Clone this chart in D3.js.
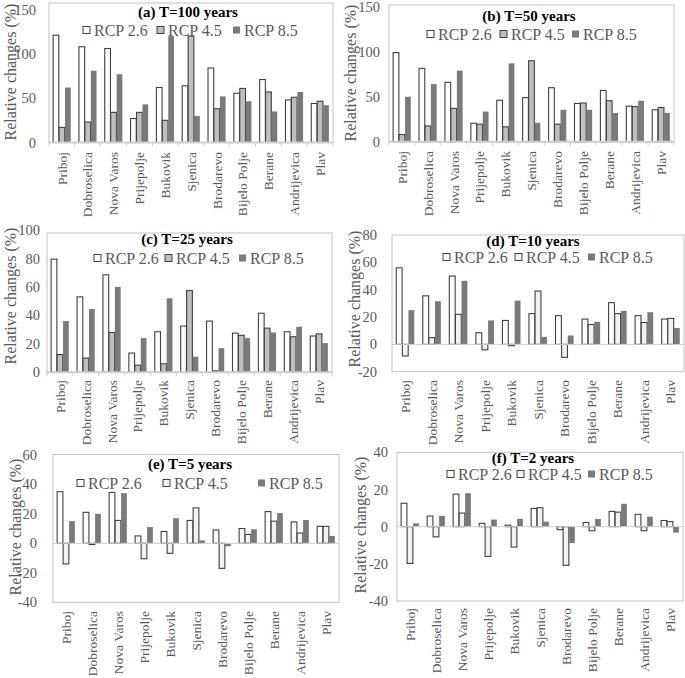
<!DOCTYPE html>
<html><head><meta charset="utf-8">
<script src="https://cdn.jsdelivr.net/npm/d3@7"></script>
<style>body{margin:0;background:#fff}svg{display:block}</style>
</head><body><svg id="c" width="685" height="678"></svg>
<script>
const categories = ["Priboj","Dobroselica","Nova Varos","Prijepolje","Bukovik","Sjenica","Brodarevo","Bijelo Polje","Berane","Andrijevica","Plav"];
const seriesNames = ["RCP 2.6","RCP 4.5","RCP 8.5"];

const rcp26_T100 = [121,108,106,27,62,64,84,55.5,71,48,44];
const rcp45_T100 = [17,23,34,34,25,120,38,61,57,51,46.5];
const rcp85_T100 = [62,81,77,43,120,30,52,46.5,35,57,42];

const rcp26_T50 = [99,81.5,66,20.5,46,49,60,42.5,57,39.5,35.5];
const rcp45_T50 = [8,17.5,37,19.5,16.5,90,19.5,43,45.5,39,38];
const rcp85_T50 = [50,64,79,33.5,87,21,35.5,35.5,32,45.5,32];

const rcp26_T25 = [79.5,53,68.5,13.5,28.5,32.5,36,27.5,41.5,28.5,25.5];
const rcp45_T25 = [12.5,10,28,5,6,57.5,1,26,31,25,27];
const rcp85_T25 = [36,44.5,60,24,52,11,17,24,28,32,20.5];

const rcp26_T10 = [56,35.5,50,8.5,17.5,22.5,21,18.5,30.5,21,18.5];
const rcp45_T10 = [-8.5,5,22,-4,-1,39,-9.5,14.5,22.5,16,19];
const rcp85_T10 = [25,31.5,46.5,17.5,32,5.5,6.5,16.5,24.5,23.5,12];

const rcp26_T5 = [35,21,34.5,5,8,15.5,9,10,21.5,14.5,11.5];
const rcp45_T5 = [-14,-0.8,15.5,-10.5,-6.8,24,-17,6,15,7,11.5];
const rcp85_T5 = [15,20,34,11,17,2,-2,9.5,20.5,15.8,5];

const rcp26_T2 = [12.6,5.7,17.5,1.8,0.8,9.8,-1.6,2.2,8.2,6.6,3.3];
const rcp45_T2 = [-19.8,-5.5,7.3,-16,-11,10.2,-20.8,-2.2,7.8,-2.2,2.7];
const rcp85_T2 = [1.8,5.8,18,3.8,4.2,2.7,-8.8,4.1,12.3,5.4,-3.2];

const ticksA = [0,50,100,150];
const ticksC = [0,20,40,60,80,100];
const ticksD = [-20,0,20,40,60,80];
const ticksE = [-40,-20,0,20,40,60];
const ticksF = [-40,-20,0,20,40];

const titles = ["(a) T=100 years","(b) T=50 years","(c) T=25 years","(d) T=10 years","(e) T=5 years","(f) T=2 years"];

const FONT = "'Liberation Serif', 'Times New Roman', serif";

// layout
const panels = [
  {title:titles[0], data:[rcp26_T100,rcp45_T100,rcp85_T100], dom:[0,150], rng:[142.5,9.5], ticks:ticksA, x0:49, x1:333, fTop:3, fBot:142.5, tickX:36,
   ttl:[188,17], leg:[83,157,233], legY:30, yt:[10,72], labY:152, c2:"#bfbfbf"},
  {title:titles[1], data:[rcp26_T50,rcp45_T50,rcp85_T50], dom:[0,150], rng:[141.7,6.7], ticks:ticksA, x0:389, x1:674, fTop:5, fBot:141.7, tickX:380,
   ttl:[529,21], leg:[427,500,572], legY:34, yt:[350,73], labY:151, c2:"#bfbfbf"},
  {title:titles[2], data:[rcp26_T25,rcp45_T25,rcp85_T25], dom:[0,100], rng:[372.3,230], ticks:ticksC, x0:47, x1:332, fTop:233, fBot:372.3, tickX:40,
   ttl:[187,244], leg:[94,165,239], legY:258, yt:[10,296], labY:380, c2:"#bfbfbf"},
  {title:titles[3], data:[rcp26_T10,rcp45_T10,rcp85_T10], dom:[-20,80], rng:[371.7,235], ticks:ticksD, x0:392, x1:684, fTop:235, fBot:371.7, tickX:377,
   ttl:[533,246], leg:[443,515,588], legY:257, yt:[354,299], labY:380, c2:"#f2f2f2"},
  {title:titles[4], data:[rcp26_T5,rcp45_T5,rcp85_T5], dom:[-40,60], rng:[602.3,454.8], ticks:ticksE, x0:53, x1:339, fTop:454.5, fBot:602.3, tickX:37,
   ttl:[190,469], leg:[77,163,258], legY:483, yt:[15,527], labY:611, c2:"#f2f2f2"},
  {title:titles[5], data:[rcp26_T2,rcp45_T2,rcp85_T2], dom:[-40,40], rng:[601,452.3], ticks:ticksF, x0:397, x1:683, fTop:452.3, fBot:601, tickX:388,
   ttl:[533,463], leg:[447,517,588], legY:474, yt:[360,525], labY:608, c2:"#f2f2f2"}
];

const svg = d3.select("#c").style("font-family", FONT);
svg.append("rect").attr("width",685).attr("height",678).attr("fill","#fff");
const grey = "#595959";

panels.forEach(p => {
  const g = svg.append("g");
  const colors = ["#ffffff", p.c2, "#7a7a7a"];
  const strokes = ["#404040","#404040","none"];
  const x = d3.scaleBand().domain(categories).range([p.x0,p.x1]).paddingInner(0.3).paddingOuter(0.15);
  const xs = d3.scaleBand().domain([0,1,2]).range([0,x.bandwidth()]).padding(0.04);
  const y = d3.scaleLinear().domain(p.dom).range(p.rng);

  g.append("rect").attr("x",p.x0).attr("y",p.fTop).attr("width",p.x1-p.x0).attr("height",p.fBot-p.fTop)
    .attr("fill","none").attr("stroke","#c4c4c4").attr("stroke-width",1);

  g.selectAll(".yt").data(p.ticks).join("text")
    .style("font-family",FONT)
    .attr("x",p.tickX).attr("y",d=>y(d)).attr("dy","0.35em").attr("text-anchor","end")
    .attr("font-size",14.5).attr("fill",grey).text(d=>d);

  p.data.forEach((vals,si) => {
    g.selectAll(".b"+si).data(vals).join("rect")
      .attr("x",(d,i)=>x(categories[i])+xs(si))
      .attr("width",xs.bandwidth())
      .attr("y",d=>y(Math.max(0,d)))
      .attr("height",d=>Math.abs(y(d)-y(0)))
      .attr("fill",colors[si]).attr("stroke",strokes[si]).attr("stroke-width",1.1);
  });

  g.append("line").attr("x1",p.x0).attr("x2",p.x1).attr("y1",y(0)).attr("y2",y(0))
    .attr("stroke","#cfcfcf").attr("stroke-width", p.dom[0]===0 ? 2 : 1);
  if (p.dom[0]===0) {
    const bounds = d3.range(categories.length+1).map(i => p.x0 + i*(p.x1-p.x0)/categories.length);
    g.selectAll(".tk").data(bounds).join("line")
      .attr("x1",d=>d).attr("x2",d=>d).attr("y1",y(0)).attr("y2",y(0)+4)
      .attr("stroke","#cfcfcf").attr("stroke-width",1);
  }

  g.selectAll(".cl").data(categories).join("text")
    .style("font-family",FONT)
    .attr("transform",d=>`translate(${x(d)+x.bandwidth()/2},${p.labY}) rotate(-90)`)
    .attr("text-anchor","end").attr("dy","0.35em")
    .attr("font-size",13.5).attr("fill",grey).text(d=>d);

  g.append("text").style("font-family",FONT).attr("transform",`translate(${p.yt[0]},${p.yt[1]}) rotate(-90)`)
    .attr("text-anchor","middle").attr("dy","0.35em").attr("font-size",16).attr("fill",grey)
    .text("Relative changes (%)");

  g.append("text").style("font-family",FONT).attr("x",p.ttl[0]).attr("y",p.ttl[1]).attr("text-anchor","middle")
    .attr("font-size",15).attr("font-weight","bold").attr("fill","#000").text(p.title);

  seriesNames.forEach((s,si) => {
    g.append("rect").attr("x",p.leg[si]).attr("y",p.legY-3.5).attr("width",7).attr("height",7)
      .attr("fill",colors[si]).attr("stroke",strokes[si]).attr("stroke-width",1);
    g.append("text").style("font-family",FONT).attr("x",p.leg[si]+11).attr("y",p.legY+5.5).attr("font-size",16)
      .attr("fill",grey).text(s);
  });
});
</script></body></html>
